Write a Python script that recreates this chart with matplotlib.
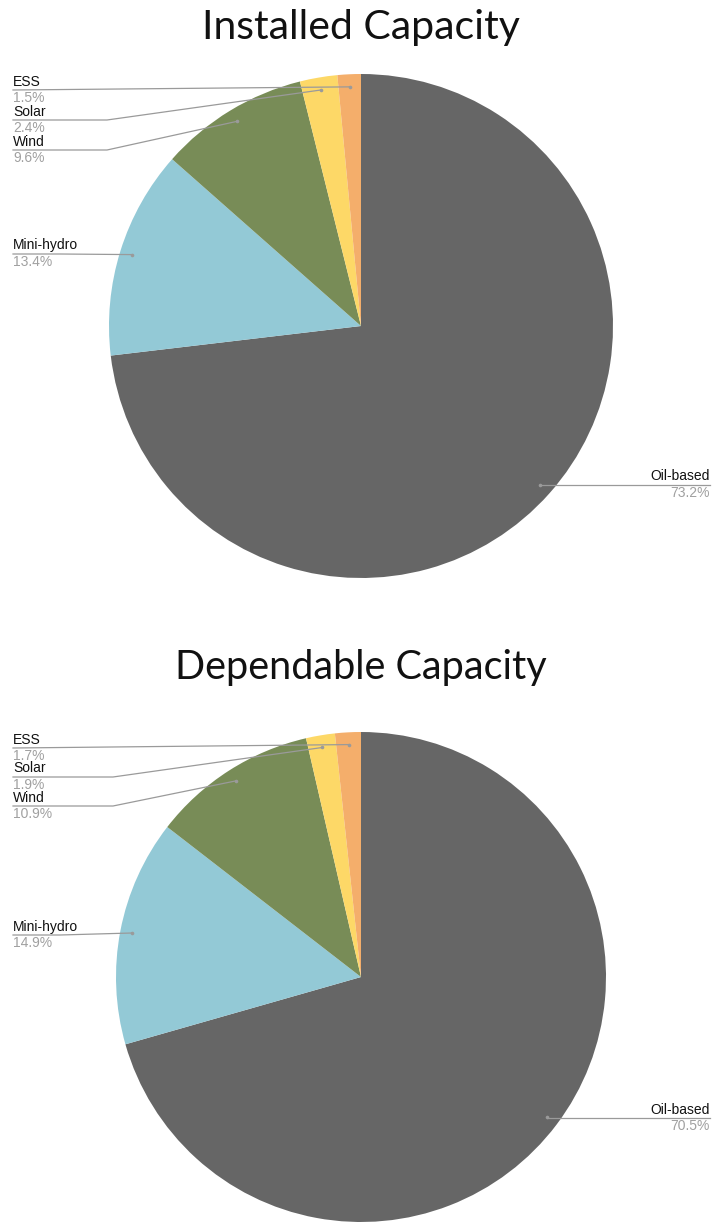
import numpy as np
import matplotlib
matplotlib.use("Agg")
import matplotlib.pyplot as plt

W, H = 712, 1222

categories = ["Oil-based", "Mini-hydro", "Wind", "Solar", "ESS"]
colors = ["#666666", "#93C9D6", "#788C57", "#FDD867", "#F4AE6B"]
installed = [73.2, 13.4, 9.6, 2.4, 1.5]
dependable = [70.5, 14.9, 10.9, 1.9, 1.7]

fig = plt.figure(figsize=(W / 100, H / 100), dpi=100)
ax = fig.add_axes([0, 0, 1, 1])

LINE_C = "#9a9a9a"
PCT_C = "#a0a0a0"
LABEL_FONT = "Liberation Sans"
TITLE_FONT = "Lato"


def Y(y):
    # pixel rows measured from the top
    return H - y


def draw_panel(title, title_y, title_size, values, cx, cy, r, layout):
    ax.pie(values, colors=colors, startangle=90, counterclock=False,
           center=(cx, Y(cy)), radius=r, frame=True,
           wedgeprops=dict(linewidth=0))
    ax.text(cx, Y(title_y), title, ha="center", va="center",
            fontsize=title_size, family=TITLE_FONT, color="#111111")
    total = float(sum(values))
    start = 0.0
    for name, v in zip(categories, values):
        mid = start + v / total * 360.0 / 2
        start += v / total * 360.0
        th = np.deg2rad(mid)
        px = cx + 0.95 * r * np.sin(th)
        py = cy - 0.95 * r * np.cos(th)
        side, line_y, elbow_x = layout[name]
        if side == "left":
            end_x = 13
            xs = [px, elbow_x, end_x]
            ys = [py, line_y, line_y]
            ha, tx = "left", end_x
        else:
            end_x = 710
            xs = [px, end_x]
            ys = [line_y, line_y]
            ha, tx = "right", end_x
        ax.plot(xs, [Y(y) for y in ys], color=LINE_C, lw=0.9,
                solid_joinstyle="miter")
        ax.plot([px], [Y(py)], "o", ms=2.6, color=LINE_C, mec="none")
        ax.text(tx, Y(line_y - 1.5), name, ha=ha, va="bottom",
                fontsize=10, family=LABEL_FONT, color="#111111")
        ax.text(tx, Y(line_y + 1), f"{v:.1f}%", ha=ha, va="top",
                fontsize=10, family=LABEL_FONT, color=PCT_C)


layout1 = {
    "ESS": ("left", 90, 13),
    "Solar": ("left", 120, 107),
    "Wind": ("left", 150, 107),
    "Mini-hydro": ("left", 254, 60),
    "Oil-based": ("right", 485, 0),
}
layout2 = {
    "ESS": ("left", 748, 13),
    "Solar": ("left", 777, 113),
    "Wind": ("left", 806, 113),
    "Mini-hydro": ("left", 935, 60),
    "Oil-based": ("right", 1118, 0),
}

draw_panel("Installed Capacity", 27, 29.5, installed, 361, 326, 252, layout1)
draw_panel("Dependable Capacity", 667, 28.5, dependable, 361, 977, 245, layout2)

ax.set_xlim(0, W)
ax.set_ylim(0, H)
ax.set_aspect("equal")
ax.axis("off")

fig.savefig("out.png", dpi=100, facecolor="white")
